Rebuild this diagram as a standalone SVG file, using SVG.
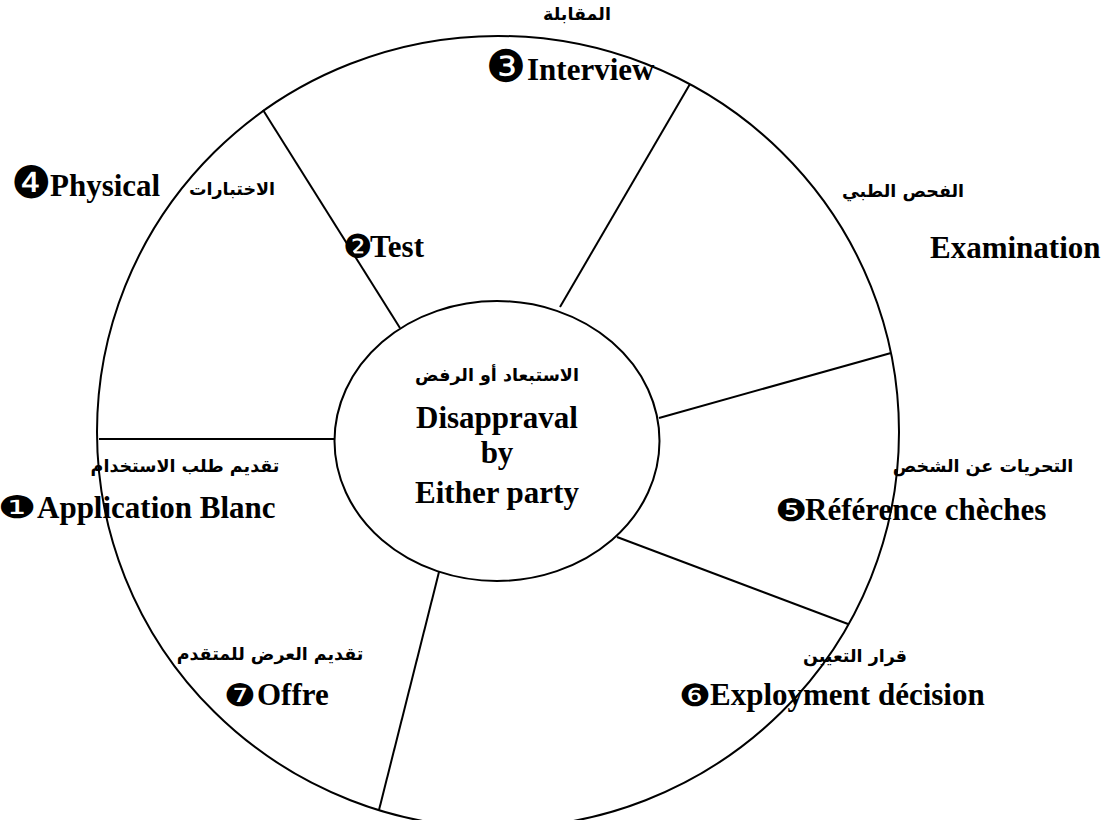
<svg xmlns="http://www.w3.org/2000/svg" width="1114" height="820" viewBox="0 0 1114 820">
<style>
.ln{stroke:#000;stroke-width:2;fill:none}
.en{font-family:"Liberation Serif","Times New Roman",serif;font-weight:bold;font-size:31px;fill:#000}
.ar{font-family:"DejaVu Sans","Liberation Sans",sans-serif;font-weight:bold;font-size:17.5px;fill:#000}
.nb{font-family:"DejaVu Sans",sans-serif;font-size:45px;fill:#000}
.nm{font-family:"DejaVu Sans",sans-serif;font-size:33px;fill:#000}
.ns{font-family:"DejaVu Sans",sans-serif;font-size:31px;fill:#000}
</style>
<rect width="1114" height="820" fill="#fff"/>
<g id="outer-ring"><ellipse class="ln" cx="498" cy="432" rx="401" ry="396"/></g>
<g id="connectors">
<line class="ln" x1="99" y1="439" x2="334" y2="439"/>
<line class="ln" x1="263" y1="110" x2="400" y2="328"/>
<line class="ln" x1="690" y1="84" x2="560" y2="307"/>
<line class="ln" x1="659" y1="418" x2="891" y2="353"/>
<line class="ln" x1="617" y1="537" x2="848" y2="624"/>
<line class="ln" x1="439" y1="572" x2="379" y2="810"/>
</g>
<g id="center">
<ellipse class="ln" cx="497" cy="441" rx="162.5" ry="140"/>
<text class="ar" x="497" y="381" text-anchor="middle">الاستبعاد أو الرفض</text>
<text class="en" x="497" y="428" text-anchor="middle">Disappraval</text>
<text class="en" x="497" y="463" text-anchor="middle">by</text>
<text class="en" x="497" y="503" text-anchor="middle">Either party</text>
</g>
<g id="step1">
<text class="ar" x="185" y="472" text-anchor="middle">تقديم طلب الاستخدام</text>
<text class="ns" transform="translate(-2,518) scale(1.4,1)" x="0" y="0">❶</text>
<text class="en" x="37" y="518">Application Blanc</text>
</g>
<g id="step2">
<text class="nm" x="343" y="258">❷</text>
<text class="en" x="370" y="257">Test</text>
</g>
<g id="step3">
<text class="ar" x="577" y="20" text-anchor="middle">المقابلة</text>
<text class="nb" x="486" y="82">❸</text>
<text class="en" x="527" y="80">Interview</text>
</g>
<g id="step4">
<text class="nb" x="11" y="198">❹</text>
<text class="en" x="50" y="196">Physical</text>
<text class="ar" x="232" y="195" text-anchor="middle">الاختبارات</text>
<text class="ar" x="903" y="197" text-anchor="middle">الفحص الطبي</text>
<text class="en" x="930" y="258">Examination</text>
</g>
<g id="step5">
<text class="ar" x="983" y="472" text-anchor="middle">التحريات عن الشخص</text>
<text class="ns" transform="translate(775,521) scale(1.15,1)" x="0" y="0">❺</text>
<text class="en" x="805" y="520">Référence chèches</text>
</g>
<g id="step6">
<text class="ar" x="855" y="662" text-anchor="middle">قرار التعيين</text>
<text class="ns" transform="translate(679,706) scale(1.15,1)" x="0" y="0">❻</text>
<text class="en" x="710" y="705">Exployment décision</text>
</g>
<g id="step7">
<text class="ar" x="270" y="660" text-anchor="middle">تقديم العرض للمتقدم</text>
<text class="ns" transform="translate(224,706) scale(1.15,1)" x="0" y="0">❼</text>
<text class="en" x="257" y="705">Offre</text>
</g>
</svg>
